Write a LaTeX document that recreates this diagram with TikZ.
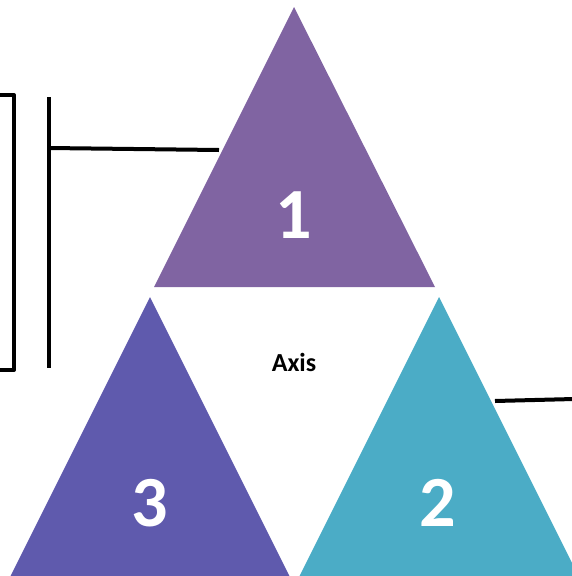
\documentclass[tikz,border=0pt]{standalone}
\usepackage{fontspec}
\setmainfont{Carlito}
\usetikzlibrary{positioning,calc}
\definecolor{topColor}{HTML}{8064A2}
\definecolor{leftColor}{HTML}{5F5AAD}
\definecolor{rightColor}{HTML}{4BACC6}
\tikzset{
	tri/.style={draw=none},
	num/.style={text=white, font=\fontsize{72}{72}\selectfont\bfseries, inner sep=0},
	bar/.style={line width=4pt, line cap=butt, line join=round}
}
\begin{document}
\begin{tikzpicture}[x=1pt,y=-1pt]
	\useasboundingbox (0,0) rectangle (572,576);
	\clip (0,0) rectangle (572,576);
	% triangles
	\fill[topColor] (294,7) coordinate (t1top) -- (435,287) coordinate (t1r) -- (154,287) coordinate (t1l) -- cycle;
	\fill[leftColor] (150,297) coordinate (t3top) -- (290,577) -- (10,577) -- cycle;
	\fill[rightColor] (439,297) coordinate (t2top) -- (579,577) -- (299,577) -- cycle;
	\node[num] (n1) at (294,215) {1};
	\node[num] (n3) at (150,503) {3};
	\node[num] (n2) at (438,503) {2};
	\node[font=\fontsize{26}{26}\selectfont\bfseries] (axis) at (294,362) {Axis};
	
	% bracket and links
	\coordinate (b1) at (-10,95);
	\coordinate (b2) at (-10,370);
	\draw[bar] (b1) -- (14,95) -- (14,370) -- (b2);
	\coordinate (v1) at (49,97);
	\coordinate (v2) at (49,368);
	\draw[bar] (v1) -- (v2);
	\path (t1top) -- (t1l) coordinate[pos=0.5] (t1e);
	\coordinate (h1) at (49,148);
	\draw[bar] (h1) -- ($(t1e)+(-5,3)$);
	\coordinate (r1) at (495,401);
	\coordinate (r2) at (574,399);
	\draw[bar] (r1) -- (r2);
\end{tikzpicture}
\end{document}
